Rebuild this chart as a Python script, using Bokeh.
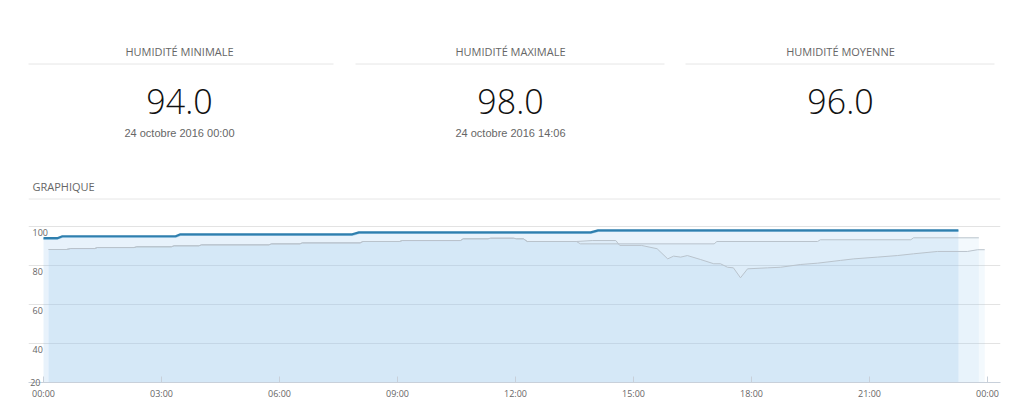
from bokeh.plotting import figure
from bokeh.layouts import column
from bokeh.models import Range1d, FixedTicker, Grid, Label
from bokeh.core.properties import value
from bokeh.embed import file_html
from bokeh.resources import INLINE

# ---------------- data ----------------
stat_titles = ["HUMIDITÉ MINIMALE", "HUMIDITÉ MAXIMALE", "HUMIDITÉ MOYENNE"]
stat_values = ["94.0", "98.0", "96.0"]
stat_dates = ["24 octobre 2016 00:00", "24 octobre 2016 14:06", ""]
chart_title = "GRAPHIQUE"

y_ticks = [20, 40, 60, 80, 100]
x_ticks = [0, 3, 6, 9, 12, 15, 18, 21, 24]
x_tick_labels = ["00:00", "03:00", "06:00", "09:00", "12:00", "15:00", "18:00", "21:00", "00:00"]

# current day (hours, humidity %)
today_t = [0.0, 0.35, 0.48, 3.36, 3.48, 7.85, 8.02, 13.91, 14.1, 23.26]
today_v = [94, 94, 95, 95, 96, 96, 97, 97, 98, 98]

# previous period 1 (upper grey)
prev1_t = [0.13, 0.58, 0.69, 1.3, 1.37, 2.3, 2.37, 3.25, 3.32, 3.95, 4.02, 5.73, 5.8,
           6.52, 6.58, 8.05, 8.12, 9.05, 9.12, 10.6, 10.67, 11.3, 11.37, 11.95, 12.02,
           12.2, 12.3, 13.55, 13.65, 17.05, 17.12, 19.68, 19.75, 22.05, 22.12, 23.78]
prev1_v = [88.2, 88.2, 88.7, 88.7, 89.2, 89.2, 89.6, 89.6, 90.1, 90.1, 90.6, 90.6, 91.1,
           91.1, 91.6, 91.6, 92.3, 92.3, 92.8, 92.8, 93.7, 93.7, 94.0, 94.0, 93.7,
           93.7, 92.3, 92.3, 91.1, 91.1, 92.3, 92.3, 93.2, 93.2, 94.2, 94.2]

# previous period 2 (lower grey)
prev2_t = [0.13, 0.58, 0.69, 1.3, 1.37, 2.3, 2.37, 3.25, 3.32, 3.95, 4.02, 5.73, 5.8,
           6.52, 6.58, 8.05, 8.12, 9.05, 9.12, 10.6, 10.67, 11.3, 11.37, 11.95, 12.02,
           12.2, 12.3, 13.55, 13.95, 14.55, 14.65, 15.2, 15.6, 15.87, 16.02, 16.2, 16.37,
           16.7, 17.04, 17.21, 17.39, 17.54, 17.72, 17.9, 18.41, 18.74, 19.24, 19.68,
           20.26, 20.6, 21.2, 21.71, 22.12, 22.73, 23.49, 23.75, 23.93]
prev2_v = [88.2, 88.2, 88.7, 88.7, 89.2, 89.2, 89.6, 89.6, 90.1, 90.1, 90.6, 90.6, 91.1,
           91.1, 91.6, 91.6, 92.3, 92.3, 92.8, 92.8, 93.7, 93.7, 94.0, 94.0, 93.7,
           93.7, 92.3, 92.3, 92.8, 92.8, 90.3, 90.3, 88.6, 83.4, 84.8, 84.3, 85.1,
           83.1, 80.9, 80.9, 79.1, 78.8, 73.7, 78.3, 78.8, 79.1, 80.5, 81.2,
           82.6, 83.4, 84.3, 85.1, 86.0, 87.2, 87.2, 88.1, 88.1]

# ---------------- style ----------------
FONT = value("Open Sans")
TXT = "#666666"
SEP = "#e6e6e6"
W = 1024
BL, BR = 28, 24          # frame borders (left / right), shared by both figures
FRAME_L, FRAME_R = BL, W - BR

# ---------------- header (stat boxes) ----------------
TOP_H = 210
top = figure(width=W, height=TOP_H, x_range=Range1d(FRAME_L, FRAME_R), y_range=Range1d(TOP_H, 0),
             x_axis_location=None, y_axis_location=None, toolbar_location=None,
             output_backend="svg", min_border_left=BL, min_border_right=BR,
             min_border_top=0, min_border_bottom=0, outline_line_color=None)
top.xgrid.visible = False
top.ygrid.visible = False

centers = [179, 510, 840]
lefts = [24, 355, 685]
rights = [333, 664, 994]

top.text(x=centers, y=[51] * 3, text=stat_titles, text_font=FONT, text_font_size="11px",
         text_color=TXT, text_align="center", text_baseline="middle")
top.segment(x0=lefts, y0=[63.5] * 3, x1=rights, y1=[63.5] * 3, line_color=SEP, line_width=1)
top.text(x=centers, y=[101] * 3, text=stat_values,
         text_font=value("'Open Sans Light', 'Open Sans'"), text_font_size="34px",
         text_color="#111111", text_align="center", text_baseline="middle")
top.text(x=centers, y=[132] * 3, text=stat_dates, text_font=value("Liberation Sans"),
         text_font_size="11px", text_color=TXT, text_align="center", text_baseline="middle")
top.text(x=[32], y=[186], text=[chart_title], text_font=FONT, text_font_size="11px",
         text_color=TXT, text_align="left", text_baseline="middle")
top.segment(x0=[28], y0=[198.5], x1=[1000], y1=[198.5], line_color=SEP, line_width=1)

# ---------------- chart ----------------
px_per_h = 944 / 24.0
x_start = (FRAME_L - 43) / px_per_h
x_end = (FRAME_R - 43) / px_per_h
y_min = y_ticks[0]
y_top = 100 + 2 / 1.95

p = figure(width=W, height=193, x_range=Range1d(x_start, x_end), y_range=Range1d(y_min, y_top),
           toolbar_location=None, output_backend="svg",
           min_border_left=BL, min_border_right=BR, min_border_top=14, min_border_bottom=21,
           outline_line_color=None, background_fill_color="white")
p.xgrid.visible = False
p.ygrid.visible = False
p.add_layout(Grid(dimension=1, ticker=FixedTicker(ticks=y_ticks), grid_line_color="#e3e3e3"))

# fills
p.varea(x=prev1_t, y1=y_min, y2=prev1_v, fill_color="#a0cdee", fill_alpha=0.12)
p.varea(x=prev2_t, y1=y_min, y2=prev2_v, fill_color="#a0cdee", fill_alpha=0.12)
p.varea(x=today_t, y1=y_min, y2=today_v, fill_color="#8cc0ec", fill_alpha=0.2)

# lines
p.line(x=prev1_t, y=prev1_v, line_color="#b9c3cc", line_width=1)
p.line(x=prev2_t, y=prev2_v, line_color="#b9c3cc", line_width=1)
p.line(x=today_t, y=[v - 0.35 for v in today_v], line_color="#a9cfe8", line_width=2)
p.line(x=today_t, y=today_v, line_color="#2f7fae", line_width=2.2)

# y labels drawn inside the plot, just under their grid lines
for t in y_ticks[1:]:
    p.add_layout(Label(x=x_start, y=t, text=str(t), x_offset=4, y_offset=-2,
                       text_font="Open Sans", text_font_size="9px", text_color=TXT,
                       text_align="left", text_baseline="top"))

# lowest label sits on the x axis line: let the (hidden-line) y axis draw it
yax = p.yaxis[0]
yax.ticker = FixedTicker(ticks=y_ticks[:1])
yax.axis_line_color = None
yax.major_tick_line_color = None
yax.minor_tick_line_color = None
yax.major_label_standoff = -18
yax.major_label_text_font = "Open Sans"
yax.major_label_text_font_size = "9px"
yax.major_label_text_color = TXT

ax = p.xaxis[0]
ax.ticker = FixedTicker(ticks=x_ticks)
ax.major_label_overrides = {t: l for t, l in zip(x_ticks, x_tick_labels)}
ax.axis_line_color = "#c8d0da"
ax.major_tick_line_color = "#c8d0da"
ax.major_tick_in = 6
ax.major_tick_out = 0
ax.minor_tick_line_color = None
ax.major_label_standoff = 4
ax.major_label_text_font = "Open Sans"
ax.major_label_text_font_size = "9px"
ax.major_label_text_color = TXT

layout = column(top, p, spacing=0)
open("out.html", "w").write(file_html(layout, INLINE))
